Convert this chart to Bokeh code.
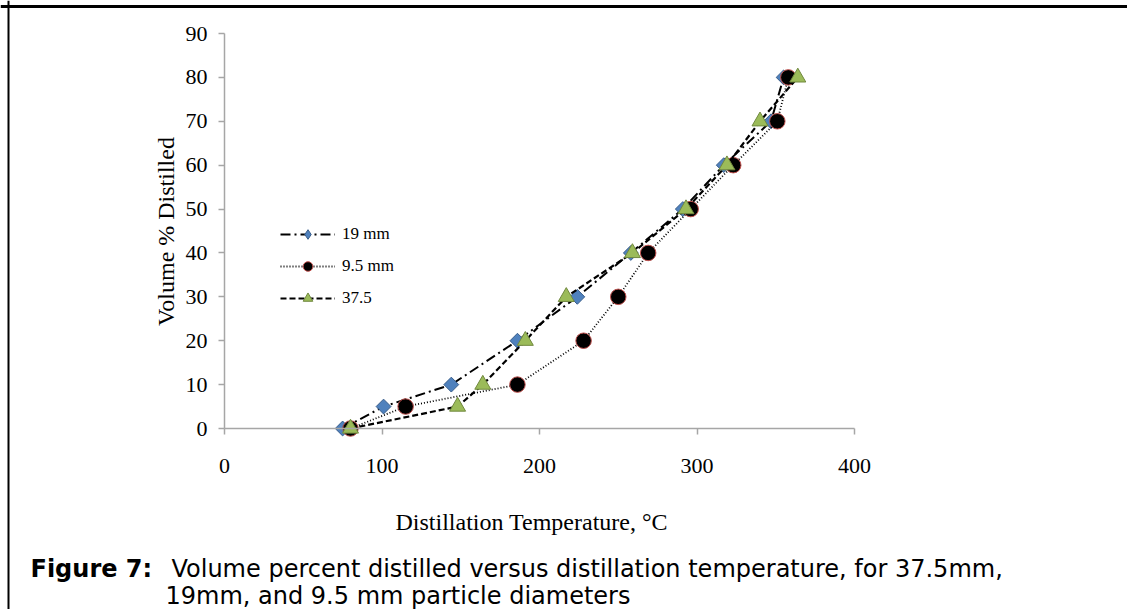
from bokeh.plotting import figure
from bokeh.models import Range1d, Label, Legend, LegendItem, Span, FixedTicker, LinearAxis
from bokeh.embed import file_html
from bokeh.resources import INLINE
import numpy as np

# ---- data ----
volume = [0, 5, 10, 20, 30, 40, 50, 60, 70, 80]
temp_19mm = [75, 101, 144, 186, 224, 258, 291, 317, 347, 355]
temp_9_5mm = [80, 115, 186, 228, 250, 269, 296, 323, 351, 358]
temp_37_5 = [80, 148, 164, 191, 217, 259, 293, 319, 340, 364]
x_ticks = [0, 100, 200, 300, 400]
y_ticks = [0, 10, 20, 30, 40, 50, 60, 70, 80, 90]
series_names = ["19 mm", "9.5 mm", "37.5"]

# ---- layout: the frame covers the whole canvas; the axes sit at fixed locations ----
W, H = 1127, 609
AX_L, AX_R, AX_T, AX_B = 224, 854, 33, 428      # pixel box of the 0..400 x 0..90 chart area
XMAX, YMAX = 400, 90
kx = (AX_R - AX_L) / XMAX
ky = (AX_B - AX_T) / YMAX
def dx(px): return (px - AX_L) / kx
def dy(py): return (AX_B - py) / ky

p = figure(width=W, height=H, output_backend="svg", toolbar_location=None,
           x_range=Range1d(dx(0), dx(W)), y_range=Range1d(dy(H), dy(0)),
           x_axis_type=None, y_axis_type=None, min_border=0)
p.outline_line_color = None
p.background_fill_color = "white"
p.border_fill_color = "white"

serif = "Liberation Serif"
xaxis = LinearAxis(fixed_location=0, bounds=(0, XMAX), ticker=FixedTicker(ticks=x_ticks))
yaxis = LinearAxis(fixed_location=0, bounds=(0, YMAX), ticker=FixedTicker(ticks=y_ticks))
for ax in (xaxis, yaxis):
    ax.axis_line_color = "#a6a6a6"
    ax.axis_line_width = 1.5
    ax.major_tick_line_color = "#a6a6a6"
    ax.major_tick_line_width = 1.5
    ax.major_tick_in = 0
    ax.major_tick_out = 6
    ax.minor_tick_line_color = None
    ax.major_label_text_font = serif
    ax.major_label_text_font_size = "22px"
    ax.major_label_text_color = "black"
xaxis.major_label_standoff = 24
yaxis.major_label_standoff = 11
p.add_layout(xaxis, "below")
p.add_layout(yaxis, "left")

r19_l = p.line(temp_19mm, volume, line_color="black", line_width=2, line_dash="10 4 2 4")
r19_m = p.scatter(temp_19mm, volume, marker="square", angle=np.pi / 4, size=10.5,
                  fill_color="#4F81BD", line_color="#385D8A", line_width=1)
r95_l = p.line(temp_9_5mm, volume, line_color="black", line_width=1.8, line_dash="1 2")
r95_m = p.scatter(temp_9_5mm, volume, marker="circle", size=15.5,
                  fill_color="black", line_color="#C0504D", line_width=1)
r37_l = p.line(temp_37_5, volume, line_color="black", line_width=2.2, line_dash="6 3")
r37_m = p.scatter(temp_37_5, volume, marker="triangle", size=16,
                  fill_color="#9BBB59", line_color="#71893F", line_width=1)
# legend-only marker (legend ignores marker angle, so use a diamond there)
r19_leg = p.scatter(temp_19mm, volume, marker="diamond", size=10, visible=False,
                    fill_color="#4F81BD", line_color="#385D8A", line_width=1)

legend = Legend(items=[
    LegendItem(label=series_names[0], renderers=[r19_l, r19_leg]),
    LegendItem(label=series_names[1], renderers=[r95_l, r95_m]),
    LegendItem(label=series_names[2], renderers=[r37_l, r37_m]),
], location=(280, H - 310))
legend.glyph_width = 55
legend.glyph_height = 24
legend.label_height = 24
legend.spacing = 8
legend.label_standoff = 7
legend.padding = 0
legend.margin = 0
legend.border_line_alpha = 0
legend.background_fill_alpha = 0
legend.label_text_font = serif
legend.label_text_font_size = "17px"
legend.label_text_color = "black"
p.add_layout(legend, "center")

# axis titles
p.add_layout(Label(x=dx(165), y=dy(231), text="Volume % Distilled",
                   angle=np.pi / 2, text_align="center", text_baseline="middle",
                   text_font=serif, text_font_size="24px", text_color="black"))
p.add_layout(Label(x=dx(395), y=dy(521), text="Distillation Temperature, °C",
                   text_align="left", text_baseline="alphabetic",
                   text_font=serif, text_font_size="24px", text_color="black"))

# caption
cap_font = "DejaVu Sans"
p.add_layout(Label(x=dx(30), y=dy(568), text="Figure 7:",
                   text_baseline="alphabetic", text_font=cap_font, text_font_style="bold",
                   text_font_size="24px", text_color="black"))
p.add_layout(Label(x=dx(171), y=dy(568),
                   text="Volume percent distilled versus distillation temperature, for 37.5mm,",
                   text_baseline="alphabetic", text_font=cap_font,
                   text_font_size="24px", text_color="black"))
p.add_layout(Label(x=dx(165), y=dy(595),
                   text="19mm, and 9.5 mm particle diameters",
                   text_baseline="alphabetic", text_font=cap_font,
                   text_font_size="24px", text_color="black"))

# page border lines (top and left)
p.add_layout(Span(location=dy(6), dimension="width", line_color="black", line_width=3))
p.add_layout(Span(location=dx(8), dimension="height", line_color="black", line_width=2))

open("out.html", "w").write(file_html(p, INLINE))
